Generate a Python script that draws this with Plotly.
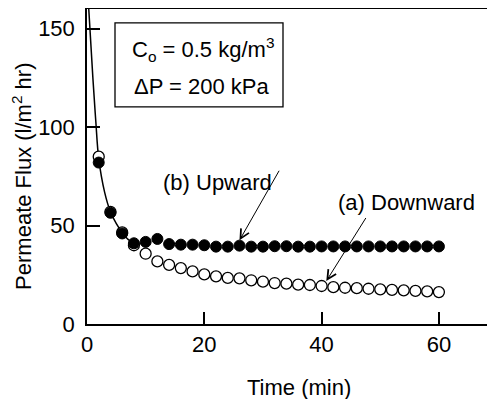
import plotly.graph_objects as go

# ---- data ----
time_min = [2, 4, 6, 8, 10, 12, 14, 16, 18, 20, 22, 24, 26, 28, 30,
            32, 34, 36, 38, 40, 42, 44, 46, 48, 50, 52, 54, 56, 58, 60]
flux_downward = [85, 57, 46.5, 40, 35.7, 31.8, 30, 28.4, 26.7, 25.2, 24.2, 23.4, 23.2, 22.2, 21.5,
                 20.8, 20.5, 20, 19.8, 19.3, 18.7, 18.4, 18.2, 17.9, 17.6, 17.3, 17.1, 16.8, 16.6, 16.2]
flux_upward = [82, 56.5, 46, 41, 41.7, 43.2, 40.6, 40.3, 40.3, 40, 39.3, 39.3, 39.8, 39.3, 39.3,
               39.5, 39.5, 39.3, 39.3, 39.4, 39.4, 39.4, 39.4, 39.4, 39.4, 39.4, 39.4, 39.4, 39.4, 39.4]
fit_time = [0.3, 1.0, 1.5, 2, 3, 4, 5, 6, 7, 8]
fit_flux = [160, 125, 103, 84, 67, 57, 51, 46.5, 43, 41]

x_ticks = [0, 20, 40, 60]
y_ticks = [0, 50, 100, 150]

FONT = "Liberation Sans, Arial, sans-serif"
FS = 22

fig = go.Figure()
fig.add_trace(go.Scatter(x=fit_time, y=fit_flux, mode="lines",
                         line=dict(color="black", width=1.5, shape="spline"),
                         showlegend=False, hoverinfo="skip"))
fig.add_trace(go.Scatter(x=time_min, y=flux_downward, mode="markers",
                         marker=dict(symbol="circle", size=11, color="white",
                                     line=dict(color="black", width=1.3)),
                         name="(a) Downward", showlegend=False))
fig.add_trace(go.Scatter(x=time_min, y=flux_upward, mode="markers",
                         marker=dict(symbol="circle", size=11, color="black",
                                     line=dict(color="black", width=1)),
                         name="(b) Upward", showlegend=False))

fig.update_xaxes(range=[0, 68.2], tickvals=x_ticks, ticks="inside", ticklen=12,
                 tickwidth=1.5, tickcolor="black", showline=True, linecolor="black",
                 linewidth=1.5, mirror=True, showgrid=False, zeroline=False,
                 tickfont=dict(family=FONT, size=FS, color="black"))
fig.update_yaxes(range=[0, 160], tickvals=y_ticks, ticks="inside", ticklen=13,
                 tickwidth=1.5, tickcolor="black", showline=True, linecolor="black",
                 linewidth=1.5, mirror=False, showgrid=False, zeroline=False,
                 ticklabelstandoff=6,
                 tickfont=dict(family=FONT, size=FS, color="black"))

ann_font = dict(family=FONT, size=FS, color="black")
annotations = [
    # arrows
    dict(x=26, y=42.5, ax=32.9, ay=78.6, xref="x", yref="y", axref="x", ayref="y",
         showarrow=True, arrowhead=5, arrowsize=1.8, arrowwidth=1, arrowcolor="black", text=""),
    dict(x=40.8, y=21.8, ax=47.7, ay=54.6, xref="x", yref="y", axref="x", ayref="y",
         showarrow=True, arrowhead=5, arrowsize=1.8, arrowwidth=1, arrowcolor="black", text=""),
    # labels
    dict(x=22.2, y=72, xref="x", yref="y", text="(b) Upward", showarrow=False,
         font=ann_font, xanchor="center", yanchor="middle"),
    dict(x=54.5, y=61.5, xref="x", yref="y", text="(a) Downward", showarrow=False,
         font=ann_font, xanchor="center", yanchor="middle"),
    # condition box text
    dict(x=0.1075, y=0.871, xref="paper", yref="paper", text="C<sub>o</sub> = 0.5 kg/m<sup>3</sup>",
         showarrow=False, font=ann_font, xanchor="left", yanchor="middle"),
    dict(x=0.1125, y=0.754, xref="paper", yref="paper", text="ΔP = 200 kPa",
         showarrow=False, font=ann_font, xanchor="left", yanchor="middle"),
    # axis titles
    dict(x=-0.1625, y=0.467, xref="paper", yref="paper", text="Permeate Flux (l/m<sup>2</sup> hr)",
         textangle=-90, showarrow=False, font=ann_font, xanchor="center", yanchor="middle"),
    dict(x=0.53, y=-0.203, xref="paper", yref="paper", text="Time (min)",
         showarrow=False, font=ann_font, xanchor="center", yanchor="middle"),
]

fig.update_layout(
    width=479, height=391,
    margin=dict(l=79, r=0, t=1, b=75),
    paper_bgcolor="white", plot_bgcolor="white",
    showlegend=False,
    annotations=annotations,
    shapes=[dict(type="rect", xref="paper", yref="paper", x0=0.07, x1=0.49,
                 y0=0.689, y1=0.956, line=dict(color="black", width=1.3),
                 fillcolor="rgba(0,0,0,0)")],
)

fig.write_html("out.html")
